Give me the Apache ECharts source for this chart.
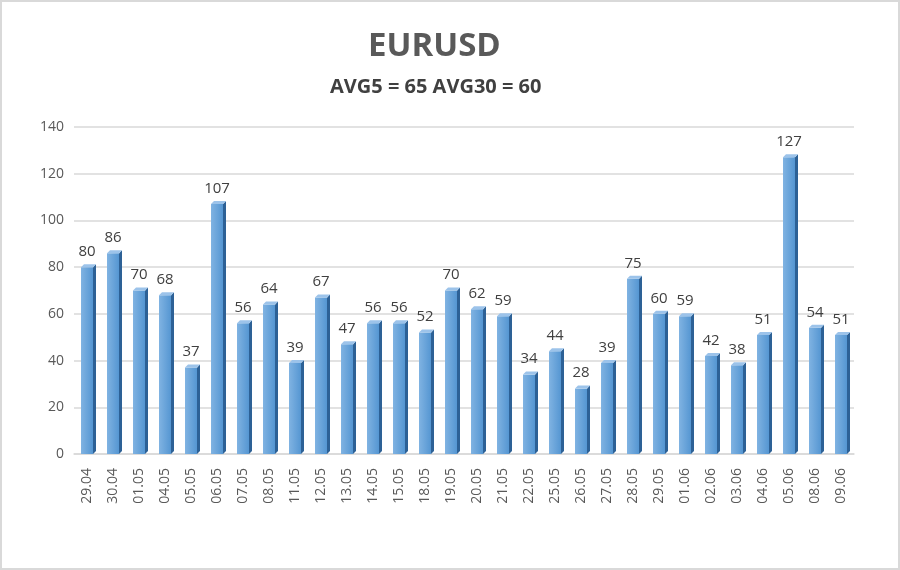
<!DOCTYPE html>
<html>
<head>
<meta charset="utf-8">
<script src="https://cdn.jsdelivr.net/npm/echarts@6/dist/echarts.min.js"></script>
<style>
  html, body { margin: 0; padding: 0; background: #fff; }
  #main { width: 900px; height: 570px; box-sizing: border-box; border: 2px solid #d9d9d9; }
</style>
</head>
<body>
<div id="main"></div>
<script>
var dates = ["29.04", "30.04", "01.05", "04.05", "05.05", "06.05", "07.05", "08.05", "11.05", "12.05",
  "13.05", "14.05", "15.05", "18.05", "19.05", "20.05", "21.05", "22.05", "25.05", "26.05",
  "27.05", "28.05", "29.05", "01.06", "02.06", "03.06", "04.06", "05.06", "08.06", "09.06"];
var ranges = [80, 86, 70, 68, 37, 107, 56, 64, 39, 67,
  47, 56, 56, 52, 70, 62, 59, 34, 44, 28,
  39, 75, 60, 59, 42, 38, 51, 127, 54, 51];
var yTicks = [0, 20, 40, 60, 80, 100, 120, 140];

var myChart = echarts.init(document.getElementById("main"));
var halfW = 6;
var depth = 3;

var option = {
  animation: false,
  title: [
    {
      text: "EURUSD",
      left: 361,
      top: 23,
      textStyle: { fontFamily: "Open Sans", fontSize: 33, fontWeight: "bold", color: "#595959" }
    },
    {
      text: "AVG5 = 65 AVG30 = 60",
      left: 323,
      top: 70,
      textStyle: { fontFamily: "Open Sans", fontSize: 20, fontWeight: "bold", color: "#404040" }
    }
  ],
  grid: { left: 72, right: 44, top: 125, bottom: 114 },
  xAxis: {
    type: "category",
    data: dates,
    axisLine: { show: true, lineStyle: { color: "#d9d9d9", width: 1.5 } },
    axisTick: { show: false },
    axisLabel: {
      rotate: 90,
      interval: 0,
      margin: 14,
      color: "#595959",
      fontFamily: "Open Sans",
      fontSize: 14
    }
  },
  yAxis: {
    type: "value",
    min: yTicks[0],
    max: yTicks[yTicks.length - 1],
    interval: 20,
    axisLine: { show: false },
    axisTick: { show: false },
    axisLabel: { color: "#595959", fontFamily: "Open Sans", fontSize: 14, margin: 10 },
    splitLine: { lineStyle: { color: "#d9d9d9", width: 1.5 } }
  },
  series: [
    {
      type: "bar",
      data: ranges,
      barWidth: halfW * 2,
      itemStyle: {
        color: new echarts.graphic.LinearGradient(0, 0, 1, 0, [
          { offset: 0, color: "#80b3e2" },
          { offset: 1, color: "#5596d2" }
        ])
      },
      label: {
        show: true,
        position: "top",
        distance: 8,
        color: "#404040",
        fontFamily: "Open Sans",
        fontSize: 15
      },
      z: 2
    },
    {
      type: "custom",
      data: ranges,
      z: 3,
      renderItem: function (params, api) {
        var top = api.coord([api.value(0), api.value(1)]);
        var base = api.coord([api.value(0), 0]);
        var xr = top[0] + halfW;
        var xl = top[0] - halfW;
        return {
          type: "group",
          children: [
            {
              type: "polygon",
              shape: { points: [[xr, top[1]], [xr + depth, top[1] - depth], [xr + depth, base[1] - depth], [xr, base[1]]] },
              style: { fill: "#2d6196" }
            },
            {
              type: "polygon",
              shape: { points: [[xl, top[1]], [xl + depth, top[1] - depth], [xr + depth, top[1] - depth], [xr, top[1]]] },
              style: { fill: "#9cc3ea" }
            }
          ]
        };
      }
    }
  ]
};
option && myChart.setOption(option);
</script>
</body>
</html>
